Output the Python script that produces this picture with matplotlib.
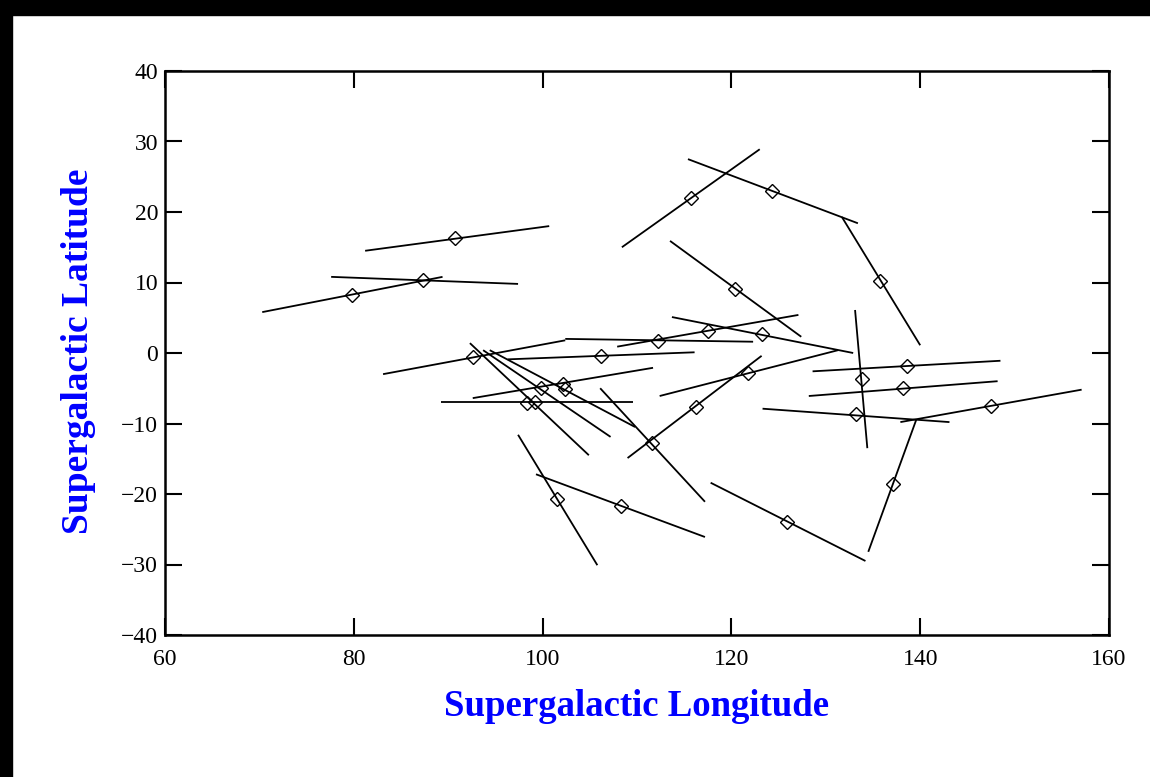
import matplotlib
matplotlib.use("Agg")
import matplotlib.pyplot as plt
from matplotlib.patches import Rectangle

# marker centres (supergalactic lon, lat)
lon = [90.7, 79.8, 87.3, 115.7, 124.3, 135.7, 120.4, 101.5, 108.3, 125.9,
       137.1, 147.5, 133.2, 138.2, 138.6, 133.8, 116.3, 121.8, 111.6, 123.2,
       117.5, 112.2, 106.2, 92.6, 102.2, 99.2, 98.3, 99.8, 102.4]
lat = [16.3, 8.2, 10.4, 22.0, 23.0, 10.2, 9.1, -20.7, -21.7, -24.0,
       -18.6, -7.5, -8.7, -5.0, -1.8, -3.7, -7.7, -2.8, -12.8, 2.7,
       3.1, 1.7, -0.4, -0.6, -4.4, -7.0, -7.1, -5.0, -5.1]

# segment end points for each marker
seg_lon0 = [81.2, 70.3, 77.6, 108.4, 115.4, 131.7, 113.5, 97.4, 99.3, 117.8,
            134.5, 137.9, 123.3, 128.2, 128.6, 133.1, 109.0, 112.4, 106.1, 113.7,
            107.9, 102.4, 96.3, 83.1, 92.6, 89.2, 92.3, 93.7, 94.4]
seg_lat0 = [14.5, 5.8, 10.8, 15.0, 27.5, 19.3, 15.9, -11.6, -17.2, -18.4,
            -28.2, -9.8, -7.9, -6.1, -2.6, 6.1, -14.9, -6.1, -5.0, 5.1,
            0.9, 2.0, -0.9, -3.0, -6.4, -7.0, 1.4, 0.4, 0.4]
seg_lon1 = [100.7, 89.4, 97.4, 123.0, 133.4, 140.0, 127.4, 105.8, 117.2, 134.2,
            139.6, 157.1, 143.1, 148.2, 148.5, 134.4, 123.2, 131.3, 117.2, 132.9,
            127.1, 122.3, 116.1, 102.4, 111.7, 109.6, 104.9, 107.2, 109.8]
seg_lat1 = [18.0, 10.8, 9.8, 28.9, 18.4, 1.1, 2.3, -30.1, -26.1, -29.5,
            -9.4, -5.2, -9.8, -4.0, -1.1, -13.5, -0.4, 0.4, -21.1, 0.0,
            5.4, 1.6, 0.1, 1.8, -2.1, -7.0, -14.5, -11.9, -10.5]

W, H = 1150, 777
LABEL_BLUE = "#0000ff"

plt.rcParams.update({
    "font.family": ["Liberation Serif", "DejaVu Serif"],
    "font.size": 17,
})

fig = plt.figure(figsize=(W / 100, H / 100), dpi=100)
ax = fig.add_axes([165 / W, 1 - 635 / H, (1109 - 165) / W, (635 - 71) / H])

for x0, y0, x1, y1 in zip(seg_lon0, seg_lat0, seg_lon1, seg_lat1):
    ax.plot([x0, x1], [y0, y1], color="black", lw=1.3, solid_capstyle="butt")
ax.plot(lon, lat, ls="none", marker="D", ms=7, mfc="none", mec="black",
        mew=1.0)

ax.set_xlim(60, 160)
ax.set_ylim(-40, 40)
ax.set_xticks(range(60, 161, 20))
ax.set_yticks(range(-40, 41, 10))
ax.tick_params(direction="in", length=12, width=1.5, top=True, right=True,
               labelsize=17)
ax.tick_params(axis="x", pad=10)
ax.tick_params(axis="y", pad=5)
for sp in ax.spines.values():
    sp.set_linewidth(1.8)

fig.text(637 / W, 1 - 706 / H, "Supergalactic Longitude", color=LABEL_BLUE,
         fontsize=26.5, fontweight="bold", ha="center", va="center")
fig.text(79 / W, 1 - 351 / H, "Supergalactic Latitude", color=LABEL_BLUE,
         fontsize=27, fontweight="bold", ha="center", va="center", rotation=90)

# black frame along the top and left edges of the picture
fig.patches.append(Rectangle((0, 1 - 15 / H), 1, 15 / H,
                             transform=fig.transFigure, color="black"))
fig.patches.append(Rectangle((0, 0), 12 / W, 1,
                             transform=fig.transFigure, color="black"))

fig.savefig("out.png", dpi=100)
